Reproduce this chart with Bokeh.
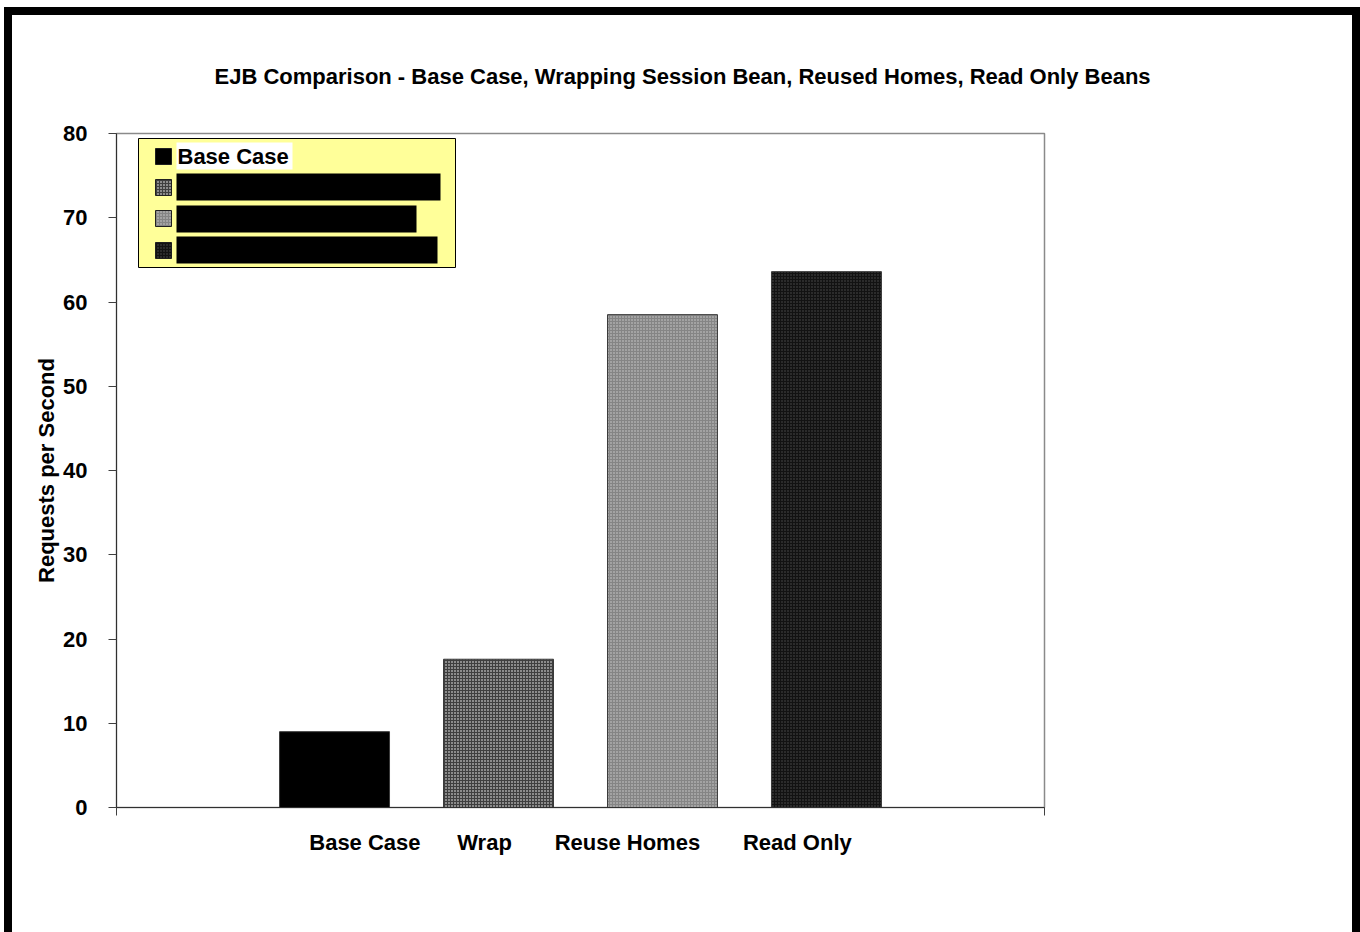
from bokeh.plotting import figure
from bokeh.models import Range1d, FixedTicker, LinearAxis, ColumnDataSource
from bokeh.core.properties import value
from bokeh.embed import file_html
from bokeh.resources import INLINE

# ---------------- data ----------------
categories = ["Base Case", "Wrap", "Reuse Homes", "Read Only"]
requests_per_second = [9.0, 17.6, 58.5, 63.6]
series_names = ["Base Case", "Wrapping Session Bean", "Reused Homes", "Read Only Beans"]
y_ticks = [0, 10, 20, 30, 40, 50, 60, 70, 80]
title_text = "EJB Comparison - Base Case, Wrapping Session Bean, Reused Homes, Read Only Beans"
y_label = "Requests per Second"

# ---------------- styles ----------------
fills = ["#000000", "#3e3e3e", "#858585", "#121212"]
hatches = [" ", "dot", "dot", "dot"]
hatch_colors = ["#000000", "#ffffff", "#d0d0d0", "#4e4e4e"]
FONT = "Liberation Sans"

n = len(categories)
step = 0.1767      # spacing between bars inside the single category cluster
bar_w = 0.1185
offsets = [(i - (n - 1) / 2) * step for i in range(n)]

src = ColumnDataSource(dict(x=offsets, top=requests_per_second, fill=fills,
                            hatch=hatches, hcol=hatch_colors, name=categories))

W, H = 1356, 925
p = figure(width=W, height=H, output_backend="svg", toolbar_location=None,
           x_range=Range1d(-0.5, 0.5), y_range=Range1d(0, 80),
           min_border_left=104, min_border_right=324, min_border_top=118,
           min_border_bottom=133, x_axis_type=None, y_axis_type=None)
p.styles = {"border-top": "8px solid black", "border-left": "8px solid black",
            "border-right": "8px solid black", "margin-top": "7px", "margin-left": "4px"}

p.background_fill_color = "white"
p.border_fill_color = "white"
p.outline_line_color = "#8a8a8a"
p.outline_line_width = 1.5

# title
p.title.text = title_text
p.title.text_font = FONT
p.title.text_font_style = "bold"
p.title.text_font_size = "22px"
p.title.text_color = "black"
p.title.align = "left"
p.title.offset = 98
p.title.standoff = 90

# y axis
yax = LinearAxis(ticker=FixedTicker(ticks=y_ticks), axis_label=y_label)
yax.major_label_text_font = FONT
yax.major_label_text_font_style = "bold"
yax.major_label_text_font_size = "22px"
yax.major_label_text_color = "black"
yax.major_label_standoff = 21
yax.major_tick_out = 8
yax.major_tick_in = 0
yax.major_tick_line_color = "#404040"
yax.minor_tick_line_color = None
yax.axis_line_color = "#303030"
yax.axis_label_text_font = FONT
yax.axis_label_text_font_style = "bold"
yax.axis_label_text_font_size = "22px"
yax.axis_label_text_color = "black"
yax.axis_label_standoff = 1
p.add_layout(yax, "left")

# x axis: one category whose label is the four names
nb = "\u00a0"
joined = categories[0] + nb * 6 + categories[1] + nb * 7 + categories[2] + nb * 7 + categories[3]
xax = LinearAxis(ticker=FixedTicker(ticks=[0], minor_ticks=[-0.5, 0.5]))
xax.major_label_overrides = {0: joined}
xax.major_label_text_font = FONT
xax.major_label_text_font_style = "bold"
xax.major_label_text_font_size = "22px"
xax.major_label_text_color = "black"
xax.major_label_standoff = 14
xax.major_tick_line_color = None
xax.minor_tick_out = 8
xax.minor_tick_in = 0
xax.minor_tick_line_color = "#404040"
xax.axis_line_color = "#303030"
p.add_layout(xax, "below")

p.xgrid.visible = False
p.ygrid.ticker = FixedTicker(ticks=y_ticks)
p.ygrid.grid_line_color = "#404040"
p.ygrid.grid_line_width = 1

p.vbar(x="x", top="top", width=bar_w, bottom=0, source=src,
       fill_color="fill", hatch_pattern="hatch", hatch_color="hcol",
       hatch_scale=3, hatch_weight=1.2, line_color="#3a3a3a", line_width=1)

# ---------------- legend (built by hand, inside the frame) ----------------
def dx(px):  # horizontal pixel offset from frame left -> data
    return -0.5 + px / 928.0

def dy(py):  # pixel offset from frame top -> data
    return 80 - py * 80 / 674.0

p.quad(left=[dx(22)], right=[dx(339)], top=[dy(5)], bottom=[dy(134)],
       fill_color="#FFFF99", line_color="black", line_width=1)

row_tops = [15, 46, 77, 109]
sw = dict(left=[dx(39)] * n, right=[dx(55)] * n,
          top=[dy(t) for t in row_tops], bottom=[dy(t + 16) for t in row_tops],
          fill=fills, hatch=hatches, hcol=hatch_colors)
p.quad(left="left", right="right", top="top", bottom="bottom",
       source=ColumnDataSource(sw), fill_color="fill", hatch_pattern="hatch",
       hatch_color="hcol", hatch_scale=3, hatch_weight=1.2,
       line_color="#202020", line_width=1)

# label boxes: first white, the others blacked out
box_rights = [176, 324, 300, 321]
box_tops = [9, 40, 72, 103]
box_fill = ["white", "black", "black", "black"]
p.quad(left=[dx(60)] * n, right=[dx(r) for r in box_rights],
       top=[dy(t) for t in box_tops], bottom=[dy(t + 27) for t in box_tops],
       fill_color=box_fill, line_color=None)

p.text(x=[dx(61)] * n, y=[dy(t + 13.5) for t in box_tops], text=series_names,
       text_font=value(FONT), text_font_style="bold", text_font_size="22px",
       text_baseline="middle", text_align="left", text_color="black")

open("out.html", "w").write(file_html(p, INLINE))
